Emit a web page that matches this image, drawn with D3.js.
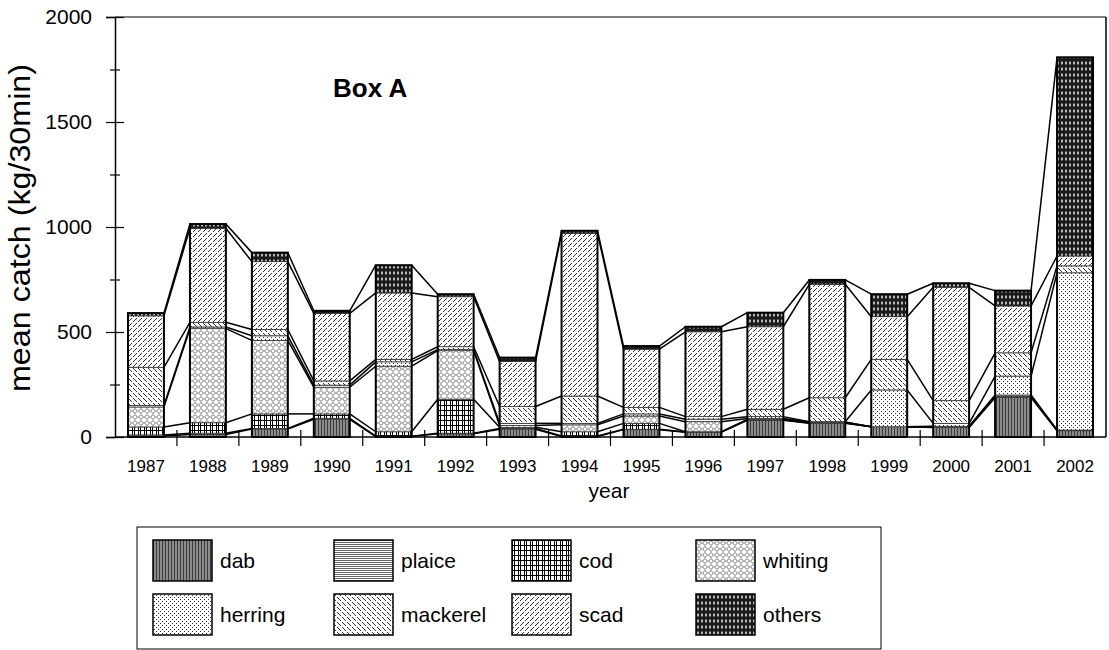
<!DOCTYPE html>
<html>
<head>
<meta charset="utf-8">
<script src="https://cdn.jsdelivr.net/npm/d3@7"></script>
<style>
  body { margin: 0; background: #fff; }
  svg { display: block; font-family: "Liberation Sans", Arial, sans-serif; }
</style>
</head>
<body>
<svg id="chart" width="1109" height="650"></svg>
<script>
// Box A catch composition, stacked per year

const years = [1987, 1988, 1989, 1990, 1991, 1992, 1993, 1994,
               1995, 1996, 1997, 1998, 1999, 2000, 2001, 2002];
const species = ["dab", "plaice", "cod", "whiting", "herring", "mackerel", "scad", "others"];

// mean catch (kg/30min)
const dab      = [5, 12, 38, 84, 2, 15, 37, 2, 35, 23, 80, 65, 49, 45, 188, 30];
const plaice   = [5, 6, 3, 5, 2, 3, 4, 3, 2, 1, 2, 2, 0, 2, 3, 2];
const cod      = [38, 50, 69, 21, 21, 162, 5, 20, 28, 1, 2, 2, 0, 2, 3, 1];
const whiting  = [95, 448, 350, 127, 312, 231, 9, 33, 35, 48, 4, 2, 0, 2, 6, 0];
const herring  = [7, 8, 22, 10, 21, 5, 10, 7, 10, 12, 9, 2, 175, 14, 90, 749];
const mackerel = [182, 22, 30, 20, 12, 14, 80, 130, 31, 12, 35, 114, 146, 108, 111, 33];
const scad     = [245, 448, 323, 322, 316, 238, 214, 775, 277, 404, 393, 540, 203, 540, 223, 47];
const others   = [13, 20, 43, 12, 132, 12, 19, 12, 15, 24, 67, 21, 107, 19, 73, 946];

const yTicks = [0, 500, 1000, 1500, 2000];
const yMinorTicks = [250, 750, 1250, 1750];

const seriesValues = { dab, plaice, cod, whiting, herring, mackerel, scad, others };
const table = years.map((yr, i) => {
  const row = { year: yr };
  species.forEach(s => row[s] = seriesValues[s][i]);
  return row;
});

const svg = d3.select("#chart");
const margin = { left: 115, right: 1106, top: 17, bottom: 437 };
const fontFam = "Liberation Sans, Arial, sans-serif";

const x = d3.scaleBand()
  .domain(years)
  .range([margin.left, margin.right])
  .paddingInner(0.42)
  .paddingOuter(0.21);
const y = d3.scaleLinear()
  .domain([0, 2000])
  .range([margin.bottom, margin.top]);

// ---- patterns for each species
const defs = svg.append("defs");
function pattern(id, w, h, bg) {
  const p = defs.append("pattern")
    .attr("id", "pat-" + id)
    .attr("patternUnits", "userSpaceOnUse")
    .attr("width", w).attr("height", h);
  p.append("rect").attr("width", w).attr("height", h).attr("fill", bg);
  return p;
}
function dots(p, pts, col) {
  pts.forEach(([a, b]) => p.append("rect").attr("x", a).attr("y", b)
    .attr("width", 1).attr("height", 1).attr("fill", col));
}
// dab: dark grey vertical stripes
let p = pattern("dab", 3, 3, "#8c8c8c");
p.append("rect").attr("x", 0).attr("width", 1).attr("height", 3).attr("fill", "#3a3a3a");
// plaice: fine horizontal lines
p = pattern("plaice", 3, 2, "#fff");
p.append("rect").attr("y", 0).attr("width", 3).attr("height", 1).attr("fill", "#666");
// cod: black grid with doubled verticals
p = pattern("cod", 6, 5, "#fff");
p.append("rect").attr("x", 0).attr("width", 1).attr("height", 5).attr("fill", "#000");
p.append("rect").attr("x", 2).attr("width", 1).attr("height", 5).attr("fill", "#000");
p.append("rect").attr("y", 0).attr("width", 6).attr("height", 1).attr("fill", "#000");
// whiting: small diamond chain
p = pattern("whiting", 6, 6, "#fff");
p.append("path").attr("d", "M3,0.5 L5.5,3 L3,5.5 L0.5,3 Z")
  .attr("fill", "none").attr("stroke", "#333").attr("stroke-width", 0.7);
// herring: sparse dots
p = pattern("herring", 4, 4, "#fff");
dots(p, [[1, 3], [3, 1]], "#333");
// mackerel: dotted "\" diagonals
p = pattern("mackerel", 5, 5, "#fff");
dots(p, [[0, 0], [1, 1], [3, 3], [4, 4]], "#333");
// scad: dotted "/" diagonals
p = pattern("scad", 5, 5, "#fff");
dots(p, [[4, 0], [3, 1], [1, 3], [0, 4]], "#333");
// others: dark with small light ovals
p = pattern("others", 4, 6, "#1a1a1a");
p.append("ellipse").attr("cx", 2).attr("cy", 3).attr("rx", 0.9).attr("ry", 1.8).attr("fill", "#ddd");

// ---- stack
const stacked = d3.stack().keys(species)(table);
const bw = x.bandwidth();

// series lines between bars
const links = [];
stacked.forEach(layer => {
  for (let i = 0; i < layer.length - 1; i++) {
    links.push({ x1: x(years[i]) + bw, y1: y(layer[i][1]),
                 x2: x(years[i + 1]), y2: y(layer[i + 1][1]) });
  }
});
svg.append("g").selectAll("line").data(links).join("line")
  .attr("x1", d => d.x1).attr("y1", d => d.y1)
  .attr("x2", d => d.x2).attr("y2", d => d.y2)
  .attr("stroke", "#000").attr("stroke-width", 1.5);

// bar segments
svg.append("g").selectAll("g").data(stacked).join("g")
  .attr("fill", d => `url(#pat-${d.key})`)
  .selectAll("rect").data(d => d).join("rect")
  .attr("x", d => x(d.data.year))
  .attr("y", d => y(d[1]))
  .attr("width", bw)
  .attr("height", d => y(d[0]) - y(d[1]))
  .attr("stroke", "#333").attr("stroke-width", 0.8);

// bar outlines
const topLayer = stacked[stacked.length - 1];
svg.append("g").selectAll("rect").data(topLayer).join("rect")
  .attr("x", d => x(d.data.year))
  .attr("y", d => y(d[1]))
  .attr("width", bw)
  .attr("height", d => y(0) - y(d[1]))
  .attr("fill", "none").attr("stroke", "#000").attr("stroke-width", 2);

// ---- frame
svg.append("line").attr("x1", margin.left).attr("x2", margin.right)
  .attr("y1", margin.top).attr("y2", margin.top)
  .attr("stroke", "#000").attr("stroke-width", 1);
svg.append("line").attr("x1", margin.right).attr("x2", margin.right)
  .attr("y1", margin.top).attr("y2", margin.bottom)
  .attr("stroke", "#000").attr("stroke-width", 1.5);

// ---- y axis
const yAxis = svg.append("g")
  .attr("transform", `translate(${margin.left},0)`)
  .call(d3.axisLeft(y).tickValues(yTicks).tickFormat(d3.format("d"))
    .tickSize(9).tickPadding(14));
yAxis.select(".domain").attr("stroke-width", 1.5);
yAxis.selectAll(".tick line").attr("x1", 9).attr("stroke-width", 1.2);
yAxis.selectAll(".tick text")
  .attr("font-size", 21).attr("font-family", fontFam).attr("fill", "#000");
const yMinor = svg.append("g")
  .attr("transform", `translate(${margin.left},0)`)
  .call(d3.axisLeft(y).tickValues(yMinorTicks).tickSize(5).tickFormat(""));
yMinor.select(".domain").remove();
yMinor.selectAll(".tick line").attr("x1", 5).attr("stroke-width", 1.2);

// ---- x axis
const xAxis = svg.append("g")
  .attr("transform", `translate(0,${margin.bottom})`)
  .call(d3.axisBottom(x).tickSize(0).tickPadding(23));
xAxis.select(".domain").attr("d", `M${margin.left},0H${margin.right}`).attr("stroke-width", 1.5);
xAxis.selectAll(".tick text")
  .attr("font-size", 17).attr("font-family", fontFam).attr("fill", "#000");
const gap = (x.step() - bw) / 2;
svg.append("g").selectAll("line").data(years.slice(1)).join("line")
  .attr("x1", d => x(d) - gap).attr("x2", d => x(d) - gap)
  .attr("y1", margin.bottom - 7).attr("y2", margin.bottom + 9)
  .attr("stroke", "#000").attr("stroke-width", 1.2);

// ---- titles
svg.append("text")
  .attr("transform", `translate(30,228) rotate(-90)`)
  .attr("text-anchor", "middle").attr("font-size", 29)
  .attr("textLength", 328).attr("lengthAdjust", "spacingAndGlyphs")
  .text("mean catch (kg/30min)");
svg.append("text")
  .attr("x", 609).attr("y", 498)
  .attr("text-anchor", "middle").attr("font-size", 21)
  .text("year");
svg.append("text")
  .attr("x", 333).attr("y", 97)
  .attr("font-size", 26).attr("font-weight", "bold")
  .text("Box A");

// ---- legend
const legendCols = [153, 334, 512, 696];
const legendRows = [540, 594];
svg.append("rect")
  .attr("x", 137).attr("y", 527).attr("width", 744).attr("height", 122)
  .attr("fill", "none").attr("stroke", "#000").attr("stroke-width", 1);
const legend = svg.append("g").selectAll("g").data(species).join("g")
  .attr("transform", (d, i) => `translate(${legendCols[i % 4]},${legendRows[Math.floor(i / 4)]})`);
legend.append("rect")
  .attr("width", 59).attr("height", 41)
  .attr("fill", d => `url(#pat-${d})`)
  .attr("stroke", "#000").attr("stroke-width", 1.5);
legend.append("text")
  .attr("x", 67).attr("y", 21).attr("dy", "0.35em")
  .attr("font-size", 21)
  .text(d => d);
</script>
</body>
</html>
